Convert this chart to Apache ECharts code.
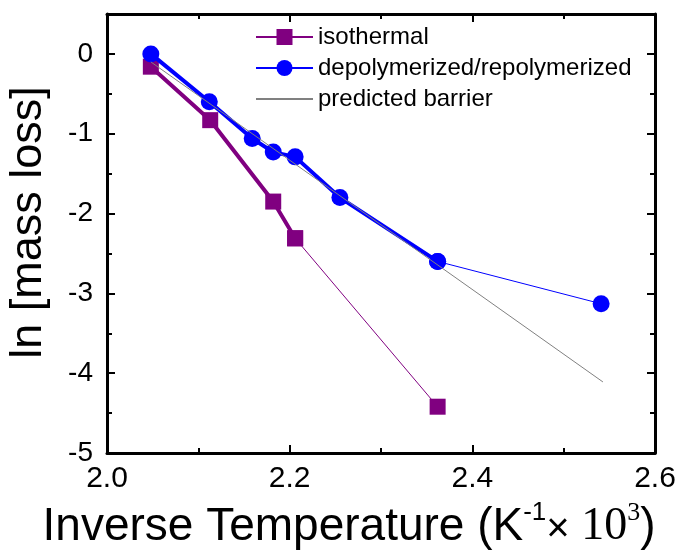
<!DOCTYPE html>
<html>
<head>
<meta charset="utf-8">
<script src="https://cdn.jsdelivr.net/npm/echarts@6/dist/echarts.min.js"></script>
<style>
  html, body { margin: 0; padding: 0; background: #fff; }
  #chart { width: 678px; height: 550px; }
</style>
</head>
<body>
<div id="chart"></div>
<script>
// isothermal runs
const isoX = [2.048, 2.113, 2.182, 2.206, 2.362]
const isoY = [-0.16, -0.83, -1.85, -2.31, -4.42]
// depolymerized / repolymerized runs
const depX = [2.048, 2.112, 2.159, 2.182, 2.206, 2.255, 2.362, 2.541]
const depY = [0.0, -0.60, -1.06, -1.23, -1.29, -1.80, -2.60, -3.13]
// predicted barrier line
const predX = [2.048, 2.543]
const predY = [-0.10, -4.11]

const font = 'Arial, "Liberation Sans", sans-serif'
const serif = '"Times New Roman", "Liberation Serif", serif'
const pairs = (xs, ys) => xs.map((x, i) => [x, ys[i]])

const iso = pairs(isoX, isoY)
const dep = pairs(depX, depY)
const pred = pairs(predX, predY)

const PURPLE = '#800080'
const BLUE = '#0000ff'

const chart = echarts.init(document.getElementById('chart'))

const axisBase = {
  axisLine: { show: true, onZero: false, lineStyle: { color: '#000', width: 3 } },
  axisTick: { show: true, inside: true, length: 8, lineStyle: { color: '#000', width: 2 } },
  minorTick: { show: true, splitNumber: 2, length: 5, lineStyle: { color: '#000', width: 2 } },
  splitLine: { show: false },
}

chart.setOption({
  animation: false,
  grid: { left: 107, right: 23, top: 14, bottom: 97, outerBoundsMode: 'none' },
  legend: {
    orient: 'vertical',
    left: 250,
    top: 20,
    itemWidth: 57,
    itemHeight: 20,
    itemGap: 7,
    textStyle: { fontFamily: font, fontSize: 24, color: '#000' },
    data: [
      'isothermal',
      'depolymerized/repolymerized',
      { name: 'predicted barrier', itemStyle: { opacity: 0 } },
    ],
  },
  xAxis: [
    {
      ...axisBase,
      type: 'value', min: 2.0, max: 2.6, interval: 0.2,
      axisLabel: {
        fontFamily: font, fontSize: 30, color: '#000', margin: 11,
        formatter: (v) => v.toFixed(1),
      },
      name: '{a|Inverse Temperature (K}{s|-1}{x|×}{t| 10}{st|3}{a|)}',
      nameLocation: 'middle',
      nameGap: 47,
      nameTextStyle: {
        padding: [0, 64, 0, 0],
        rich: {
          a: { fontFamily: font, fontSize: 46, color: '#000', lineHeight: 50, verticalAlign: 'bottom' },
          x: { fontFamily: font, fontSize: 40, color: '#000', lineHeight: 50, verticalAlign: 'bottom' },
          s: { fontFamily: font, fontSize: 26, color: '#000', lineHeight: 50, verticalAlign: 'top' },
          t: { fontFamily: serif, fontSize: 46, color: '#000', lineHeight: 50, verticalAlign: 'bottom' },
          st: { fontFamily: serif, fontSize: 26, color: '#000', lineHeight: 50, verticalAlign: 'top' },
        },
      },
    },
    {
      ...axisBase,
      type: 'value', min: 2.0, max: 2.6, interval: 0.2,
      position: 'top',
      axisLabel: { show: false },
    },
  ],
  yAxis: [
    {
      ...axisBase,
      type: 'value', min: -5, max: 0.5, interval: 1,
      axisLabel: {
        fontFamily: font, fontSize: 28, color: '#000', margin: 14,
        formatter: (v) => (Number.isInteger(v) ? String(v) : ''),
      },
      name: 'ln [mass loss]',
      nameLocation: 'middle',
      nameGap: 56,
      nameTextStyle: { fontFamily: font, fontSize: 45, color: '#000', padding: [0, 0, 0, 22] },
    },
    {
      ...axisBase,
      type: 'value', min: -5, max: 0.5, interval: 1,
      position: 'right',
      axisLabel: { show: false },
    },
  ],
  series: [
    {
      type: 'line',
      data: iso.slice(0, 4),
      symbol: 'rect', symbolSize: 16,
      lineStyle: { color: PURPLE, width: 4 },
      itemStyle: { color: PURPLE },
      z: 2,
    },
    {
      name: 'isothermal',
      type: 'line',
      data: iso.slice(3),
      symbol: 'rect', symbolSize: 16,
      lineStyle: { color: PURPLE, width: 1 },
      itemStyle: { color: PURPLE },
      z: 2,
    },
    {
      type: 'line',
      data: dep.slice(0, 7),
      symbol: 'circle', symbolSize: 17,
      lineStyle: { color: BLUE, width: 4 },
      itemStyle: { color: BLUE },
      z: 3,
    },
    {
      name: 'depolymerized/repolymerized',
      type: 'line',
      data: dep.slice(6),
      symbol: 'circle', symbolSize: 17,
      lineStyle: { color: BLUE, width: 1 },
      itemStyle: { color: BLUE },
      z: 3,
    },
    {
      name: 'predicted barrier',
      type: 'line',
      data: pred,
      symbol: 'none',
      lineStyle: { color: '#808080', width: 1 },
      itemStyle: { color: '#808080' },
      z: 4,
    },
  ],
})
</script>
</body>
</html>
